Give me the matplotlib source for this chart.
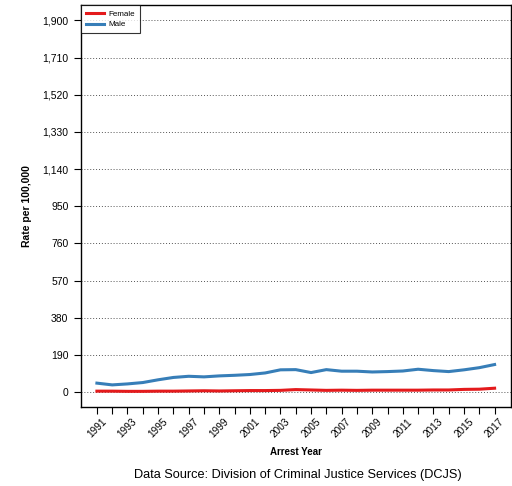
import matplotlib
matplotlib.use("Agg")
import matplotlib.pyplot as plt

plt.rcParams['font.family'] = ['Liberation Sans', 'DejaVu Sans']

years = list(range(1991, 2018))
female = [5, 5, 4, 4, 5, 5, 6, 7, 6, 7, 8, 8, 9, 13, 11, 9, 10, 9, 10, 10,
          10, 10, 11, 11, 14, 15, 20]
male = [46, 37, 42, 49, 63, 75, 81, 78, 83, 86, 90, 98, 114, 115, 100, 115,
        107, 107, 103, 105, 108, 117, 110, 105, 114, 125, 141]
yticks = [0, 190, 380, 570, 760, 950, 1140, 1330, 1520, 1710, 1900]

fig = plt.figure(figsize=(5.12, 4.86), dpi=100)
ax = fig.add_axes([81 / 512, 1 - 407 / 486, 429.5 / 512, 401.5 / 486])

ax.plot(years, female, color='#E41A1C', lw=2.2, label='Female', zorder=3)
ax.plot(years, male, color='#377EB8', lw=2.2, label='Male', zorder=3)

ax.set_xlim(1991 - 1.04, 2017 + 1.04)
ax.set_ylim(-76, 1976)
ax.set_yticks(yticks)
ax.set_yticklabels([f"{v:,}" for v in yticks], fontsize=7.5)
ax.set_xticks(years)
ax.set_xticklabels([str(y) if (y - 1991) % 2 == 0 else '' for y in years],
                   rotation=45, ha='center', va='top', fontsize=7.2)
ax.tick_params(axis='both', direction='out', length=5, width=0.8)
ax.tick_params(axis='y', pad=4)
ax.tick_params(axis='x', pad=2)
ax.grid(axis='y', linestyle=(0, (1, 2)), color='#555555', lw=0.7)
for s in ax.spines.values():
    s.set_linewidth(1.0)

ax.set_ylabel('Rate per 100,000', fontsize=7.5, fontweight='bold')
ax.yaxis.set_label_coords(-0.114, 0.5)
ax.set_xlabel('Arrest Year', fontsize=7, fontweight='bold')
ax.xaxis.set_label_coords(0.5, -0.1)

leg = ax.legend(loc='upper left', fontsize=5.8, frameon=True, fancybox=False,
                borderaxespad=0, handlelength=2.3, borderpad=0.6,
                labelspacing=0.35, handletextpad=0.5, edgecolor='black')
leg.get_frame().set_linewidth(0.8)

fig.text(298 / 512, 1 - 475 / 486,
         'Data Source: Division of Criminal Justice Services (DCJS)',
         ha='center', va='center', fontsize=9.2)

fig.savefig('out.png', dpi=100)
